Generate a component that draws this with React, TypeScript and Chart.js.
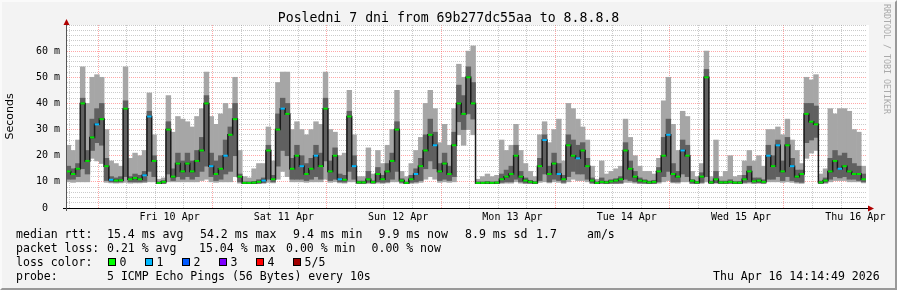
import React, { useEffect, useRef } from 'react';
import { Chart, registerables } from 'chart.js';

Chart.register(...registerables);

// ---------- data (hourly buckets, hour 0 = Thu 9 Apr 14:14:49) ----------
const HOURS = 168;
const firstMidnight = 9.753; // hours from start to Fri 10 Apr 00:00
const dayLabels = ['Fri 10 Apr', 'Sat 11 Apr', 'Sun 12 Apr', 'Mon 13 Apr', 'Tue 14 Apr', 'Wed 15 Apr', 'Thu 16 Apr'];
const yMajorLabels = [0, 10, 20, 30, 40, 50, 60];
const titleText = 'Posledni 7 dni from 69b277dc55aa to 8.8.8.8';

// smoke: min ping
const lo = [
  10, 9.8, 10, 10, 10, 19, 18, 17, 9.8, 9.6,
  9.5, 9.6, 9.8, 9.5, 9.6, 9.6, 9.7, 10, 10, 9.3,
  9.3, 10, 10, 10, 10, 10, 10, 10, 10.5, 11,
  10, 9.8, 10, 10, 10, 12, 9.5, 9.3, 9.3, 9.3,
  9.3, 9.4, 9.8, 9.6, 11, 14, 12, 10, 10, 10,
  9.8, 10, 10, 10, 11, 9.8, 10, 9.6, 9.5, 10,
  10, 9.3, 9.3, 9.4, 9.3, 9.5, 9.4, 9.6, 10, 10,
  9.4, 9.3, 9.4, 9.5, 9.8, 11, 12, 11, 9.8, 10,
  9.8, 10, 28, 24, 30, 28, 9.3, 9.3, 9.3, 9.3,
  9.3, 9.4, 9.5, 9.5, 10, 9.5, 9.3, 9.3, 9.3, 9.8,
  10, 9.6, 10, 9.8, 9.4, 10, 11, 10.5, 10.5, 10,
  9.3, 9.3, 9.3, 9.3, 9.3, 9.3, 9.3, 9.8, 9.8, 9.5,
  9.3, 9.3, 9.3, 9.3, 9.5, 10, 10.5, 9.6, 9.5, 10,
  10, 9.3, 9.3, 9.4, 10, 9.3, 9.4, 9.3, 9.3, 9.3,
  9.3, 9.3, 9.4, 9.5, 9.3, 9.4, 9.3, 10, 10, 10,
  9.8, 10, 9.8, 9.5, 9.4, 19, 21, 22, 9.3, 9.4,
  10, 10.5, 10.5, 10.5, 10, 10, 10, 9.6,
];
// smoke: inner (dark) band low
const dlo = [
  11, 11, 12, 15, 13, 22, 25, 24, 10.5, 10,
  9.9, 10, 12, 10, 10, 10, 10.2, 14, 12, 9.4,
  9.4, 13, 10.5, 12, 11, 12, 11, 12, 14, 16,
  12, 10.5, 11, 13, 14, 20, 10, 9.4, 9.4, 9.4,
  9.5, 9.7, 11, 10, 16, 22, 20, 11, 11, 11,
  10.5, 11, 12, 11, 18, 10.5, 11, 10, 9.9, 14,
  11, 9.5, 9.5, 9.8, 9.5, 10, 9.8, 10, 11, 14,
  9.8, 9.4, 9.8, 10, 10.5, 15, 18, 15, 10.5, 11,
  10.5, 12, 33, 30, 36, 34, 9.4, 9.4, 9.4, 9.4,
  9.4, 9.8, 10, 10, 11, 10, 9.6, 9.5, 9.4, 10.5,
  13, 10, 11, 10.5, 9.8, 12, 14, 13, 13, 11,
  9.6, 9.4, 9.5, 9.4, 9.5, 9.5, 9.6, 11, 10.5, 10,
  9.6, 9.5, 9.4, 9.4, 10, 12, 14, 10, 10, 13,
  12, 9.5, 9.4, 9.8, 12, 9.4, 9.7, 9.4, 9.4, 9.5,
  9.4, 9.4, 9.8, 10, 9.6, 9.7, 9.5, 11, 11, 12,
  10.5, 12, 10.5, 10, 9.8, 25, 26, 27, 9.4, 9.8,
  11, 12, 11.5, 12, 11, 11, 10.5, 10,
];
// median rtt
const med = [
  14, 13, 15, 40, 18, 27, 32, 34, 16, 10.8,
  10.5, 10.6, 38, 11, 11.5, 11, 12.5, 35, 18, 9.6,
  10, 30, 12, 17, 14, 17, 14, 18, 22, 40,
  16, 13, 15, 20, 28, 34, 12, 9.6, 9.6, 9.7,
  10, 10.5, 22, 11, 30, 38, 36, 15, 20, 16,
  13, 15, 20, 16, 38, 14, 20, 11, 10.8, 35,
  16, 9.8, 9.8, 11, 9.9, 13, 11, 14, 18, 30,
  10.5, 9.6, 11, 13, 16, 22, 28, 24, 14, 17,
  13, 24, 40, 36, 50, 40, 9.6, 9.6, 9.7, 9.6,
  9.7, 11, 12, 13, 20, 12, 10.5, 10, 9.7, 16,
  26, 13, 17, 13, 11, 24, 20, 19, 22, 16,
  10.5, 9.6, 10, 9.8, 10.2, 10.5, 11, 22, 15, 12,
  10.5, 10.2, 9.8, 10, 14, 20, 28, 13, 12, 22,
  20, 10.4, 9.8, 12, 50, 9.8, 11, 9.8, 9.8, 10,
  9.7, 9.7, 11, 14, 10.2, 10.5, 10, 20, 16, 24,
  14, 24, 16, 12, 13, 36, 33, 32, 9.8, 10.5,
  14, 18, 15, 16, 14, 13, 13, 11,
];
// smoke: inner (dark) band high
const dhi = [
  16, 15, 17, 42, 22, 34, 38, 40, 19, 12,
  11.5, 12, 41, 12, 13, 12.5, 14, 37, 20, 10,
  10.5, 33, 15, 21, 18, 21, 18, 22, 27, 43,
  21, 18, 20, 26, 31, 40, 13, 10, 10, 10.2,
  10.8, 11.5, 24, 12.5, 36, 42, 40, 19, 24, 20,
  17, 19, 24, 21, 42, 18, 23, 13, 12.5, 37,
  20, 10.3, 10.3, 14, 10.4, 15.5, 12.5, 17, 21, 33,
  11.2, 10, 12.5, 15, 19, 28, 34, 29, 17, 21,
  16, 29, 47, 43, 54, 48, 10, 10, 10.2, 10,
  10.1, 13, 14.5, 16, 24, 14, 11.5, 10.6, 10.1, 19,
  28, 16, 21, 17, 12.5, 28, 26, 24, 25, 19,
  11.5, 10, 11.5, 10.3, 10.8, 11.2, 12, 25, 18, 14,
  11.5, 10.8, 10.3, 10.6, 15.5, 27, 34, 17, 14, 26,
  24, 10.9, 10.2, 13.5, 53, 10.3, 14, 10.3, 10.3, 10.8,
  10.1, 10.2, 12.5, 16, 11.5, 11.5, 10.8, 24, 20, 26,
  18, 27, 19, 14.5, 14.5, 40, 40, 39, 10.3, 11.5,
  19, 22, 20, 21, 19, 17, 16, 13,
];
// smoke: max ping
const hi = [
  24, 22, 26, 54, 40, 50, 51, 50, 30, 18,
  17, 16, 54, 19, 21, 20, 22, 44, 28, 11,
  11.5, 43, 29, 35, 34, 33, 31, 35, 38, 52,
  35, 32, 36, 40, 38, 50, 22, 12, 11.5, 15,
  17, 17, 31, 18, 48, 52, 52, 30, 33, 30,
  28, 30, 33, 32, 52, 30, 29, 20, 21, 45,
  28, 12, 12, 23, 13, 22, 17, 24, 30, 45,
  14, 12, 17, 22, 27, 40, 45, 38, 25, 32,
  24, 38, 55, 50, 60, 62, 11, 12, 13, 12,
  12.5, 26, 22, 24, 32, 22, 17, 14, 12, 28,
  33, 25, 30, 34, 18, 40, 38, 34, 31, 26,
  16, 11, 18, 13, 14, 15, 16, 34, 27, 20,
  16, 14, 14, 13, 19, 41, 50, 32, 22, 37,
  35, 14, 12, 17, 60, 12, 26, 12, 14, 20,
  12, 12.5, 18, 22, 18, 20, 16, 30, 30, 31,
  28, 34, 26, 22, 17, 50, 49, 51, 13, 15,
  38, 36, 38, 38, 37, 30, 29, 16,
];
// hours whose median had 1 of 5 pings lost
const lossOneHours = [6, 9, 16, 17, 30, 33, 41, 45, 49, 52, 57, 60, 73, 77, 100, 103, 107, 126, 129, 147, 149, 152, 162];

const lossLabels = ['0', '1', '2', '3', '4', '5/5'];
const lossColors = ['#00ff00', '#00b8ff', '#0059ff', '#7e00ff', '#ff0000', '#a10000'];

const legendRows = [
  { y: 227, items: [[16, 'median rtt:'], [107, '15.4 ms avg'], [200, '54.2 ms max'], [293, '9.4 ms min'], [378.5, '9.9 ms now'], [465, '8.9 ms sd'], [536, '1.7'], [587, 'am/s']] },
  { y: 241, items: [[16, 'packet loss:'], [107, '0.21 % avg'], [199, '15.04 % max'], [286, '0.00 % min'], [371.5, '0.00 % now']] },
  { y: 255, items: [[16, 'loss color:']] },
  { y: 269, items: [[16, 'probe:'], [107, '5 ICMP Echo Pings (56 Bytes) every 10s'], [713, 'Thu Apr 16 14:14:49 2026']] },
];
const lossBoxX = [108, 145, 182, 219, 256, 293];

const MONO = '"DejaVu Sans Mono", monospace';
const GRID_MINOR = 'rgba(140,140,140,0.45)';
const GRID_MAJOR = 'rgba(255,60,60,0.45)';

export default function App() {
  const ref = useRef<HTMLCanvasElement>(null);

  useEffect(() => {
    document.body.style.margin = '0';
    document.body.style.background = '#f3f3f3';
    const canvas = ref.current;
    if (!canvas) return;

    const xs = lo.map((_, i) => i + 0.5);
    const bars = (a: number[], b: number[]) => xs.map((x, i) => ({ x, y: [a[i], b[i]] }));
    const xTicks: number[] = [];
    for (let v = firstMidnight - 6; v < HOURS; v += 6) xTicks.push(v);
    const yTicks: number[] = [];
    for (let v = 0; v <= 70; v += 2) yTicks.push(v);
    const near = (a: number, b: number) => Math.abs(a - b) < 0.01;
    const isMidnight = (v: number) => {
      const k = Math.round((v - firstMidnight) / 24);
      return near(v, firstMidnight + 24 * k);
    };
    const dayLabel = (v: number) => {
      const k = Math.round((v - firstMidnight - 12) / 24);
      return k >= 0 && k < dayLabels.length && near(v, firstMidnight + 12 + 24 * k) ? dayLabels[k] : '';
    };
    const pointColors = xs.map((_, i) => (lossOneHours.includes(i) ? lossColors[1] : '#00e400'));

    const decor = {
      id: 'decor',
      beforeDraw(chart: any) {
        const { ctx, chartArea: a } = chart;
        ctx.save();
        ctx.fillStyle = '#f3f3f3';
        ctx.fillRect(0, 0, chart.width, chart.height);
        ctx.fillStyle = '#ffffff';
        ctx.fillRect(a.left, a.top, a.right - a.left + 3, a.bottom - a.top);
        ctx.restore();
      },
      afterDraw(chart: any) {
        const { ctx, chartArea: a } = chart;
        ctx.save();
        ctx.strokeStyle = '#000';
        ctx.lineWidth = 1;
        ctx.beginPath();
        ctx.moveTo(a.left - 3, a.bottom + 0.5);
        ctx.lineTo(a.right + 3, a.bottom + 0.5);
        ctx.stroke();
        ctx.strokeStyle = '#555';
        ctx.beginPath();
        ctx.moveTo(a.left + 0.5, a.top - 2);
        ctx.lineTo(a.left + 0.5, a.bottom + 3);
        ctx.stroke();
        ctx.fillStyle = '#b00000';
        ctx.beginPath();
        ctx.moveTo(a.left + 0.5, a.top - 6);
        ctx.lineTo(a.left - 2.5, a.top);
        ctx.lineTo(a.left + 3.5, a.top);
        ctx.closePath();
        ctx.fill();
        ctx.beginPath();
        ctx.moveTo(a.right + 8, a.bottom + 0.5);
        ctx.lineTo(a.right + 2, a.bottom - 2.5);
        ctx.lineTo(a.right + 2, a.bottom + 3.5);
        ctx.closePath();
        ctx.fill();
        ctx.restore();
      },
    };

    const tickVal = (c: any) => (c && c.tick ? c.tick.value : NaN);

    let chart: Chart | null = null;
    try {
      chart = new Chart(canvas, {
        type: 'bar',
        data: {
          datasets: [
            {
              type: 'line',
              data: xs.map((x, i) => ({ x, y: med[i] })),
              stepped: 'middle',
              borderColor: '#1b1b1b',
              borderWidth: 1.5,
              pointStyle: 'line',
              pointRadius: 2.2,
              pointBorderWidth: 2,
              pointBorderColor: pointColors,
              pointBackgroundColor: pointColors,
              order: 0,
            } as any,
            {
              type: 'bar',
              data: bars(dlo, dhi),
              backgroundColor: '#606060',
              borderWidth: 0,
              grouped: false,
              barPercentage: 1,
              categoryPercentage: 1,
              order: 1,
            } as any,
            {
              type: 'bar',
              data: bars(lo, hi),
              backgroundColor: '#a6a6a6',
              borderWidth: 0,
              grouped: false,
              barPercentage: 1,
              categoryPercentage: 1,
              order: 2,
            } as any,
          ],
        },
        options: {
          responsive: false,
          animation: false,
          events: [],
          layout: { padding: { left: 0, right: 31, top: 25, bottom: 0 } },
          plugins: {
            legend: { display: false },
            tooltip: { enabled: false },
            title: { display: false },
          },
          scales: {
            x: {
              type: 'linear',
              min: 0,
              max: HOURS,
              offset: false,
              bounds: 'data',
              afterBuildTicks: (s: any) => {
                s.ticks = xTicks.map((v) => ({ value: v }));
              },
              afterFit: (s: any) => {
                s.height = 82;
              },
              ticks: {
                autoSkip: false,
                maxRotation: 0,
                padding: 3,
                color: '#000',
                font: { family: MONO, size: 10 },
                callback: (v: any) => dayLabel(Number(v)),
              },
              grid: {
                drawTicks: false,
                lineWidth: 1,
                color: (c: any) => (isMidnight(tickVal(c)) ? GRID_MAJOR : GRID_MINOR),
              },
              border: { display: true, color: '#000', width: 1, dash: [1, 1] },
            },
            y: {
              type: 'linear',
              min: 0,
              max: 70,
              bounds: 'data',
              afterBuildTicks: (s: any) => {
                s.ticks = yTicks.map((v) => ({ value: v }));
              },
              afterFit: (s: any) => {
                s.width = 66;
              },
              ticks: {
                autoSkip: false,
                padding: 6,
                color: '#000',
                font: { family: MONO, size: 10 },
                callback: (v: any) => {
                  const n = Number(v);
                  if (!yMajorLabels.includes(n)) return '';
                  return n === 0 ? '0  ' : `${n} m`;
                },
              },
              grid: {
                drawTicks: false,
                lineWidth: 1,
                color: (c: any) => {
                  const v = tickVal(c);
                  return v % 10 === 0 && v > 0 && v < 70 ? GRID_MAJOR : GRID_MINOR;
                },
              },
              border: { display: true, color: '#555', width: 1, dash: [1, 1] },
              title: {
                display: true,
                text: 'Seconds',
                color: '#000',
                font: { family: '"DejaVu Sans", sans-serif', size: 11 },
                padding: { top: 4, bottom: 0 },
              },
            },
          },
        } as any,
        plugins: [decor],
      });
    } catch (e) {
      console.error(e);
    }
    return () => {
      if (chart) chart.destroy();
    };
  }, []);

  const textStyle: React.CSSProperties = {
    position: 'absolute',
    whiteSpace: 'pre',
    fontFamily: MONO,
    fontSize: '11.54px',
    lineHeight: '14px',
    color: '#000',
  };

  return (
    <div style={{ position: 'relative', width: 897, height: 290, background: '#f3f3f3', overflow: 'hidden' }}>
      <canvas ref={ref} width={897} height={290} style={{ position: 'absolute', left: 0, top: 0 }} />
      <div
        style={{
          position: 'absolute',
          left: 0,
          top: 10,
          width: 897,
          textAlign: 'center',
          whiteSpace: 'pre',
          fontFamily: MONO,
          fontSize: '13.2px',
          lineHeight: '16px',
          color: '#000',
        }}
      >
        {titleText}
      </div>
      {legendRows.map((row, r) =>
        row.items.map(([x, t], k) => (
          <span key={`${r}-${k}`} style={{ ...textStyle, left: x as number, top: row.y }}>
            {t as string}
          </span>
        ))
      )}
      {lossLabels.map((l, i) => (
        <React.Fragment key={l}>
          <span
            style={{
              position: 'absolute',
              left: lossBoxX[i],
              top: 258,
              width: 8,
              height: 8,
              boxSizing: 'border-box',
              border: '1px solid #000',
              background: lossColors[i],
            }}
          />
          <span style={{ ...textStyle, left: lossBoxX[i] + 11.5, top: 255 }}>{l}</span>
        </React.Fragment>
      ))}
      <div
        style={{
          position: 'absolute',
          left: 882,
          top: 4,
          writingMode: 'vertical-rl',
          fontFamily: MONO,
          fontSize: '8.3px',
          lineHeight: '10px',
          color: '#aaaaaa',
          whiteSpace: 'pre',
        }}
      >
        RRDTOOL / TOBI OETIKER
      </div>
      <div
        style={{
          position: 'absolute',
          inset: 0,
          pointerEvents: 'none',
          borderTop: '2px solid #fafafa',
          borderLeft: '2px solid #fafafa',
          borderRight: '2px solid #999999',
          borderBottom: '2px solid #999999',
        }}
      />
    </div>
  );
}
